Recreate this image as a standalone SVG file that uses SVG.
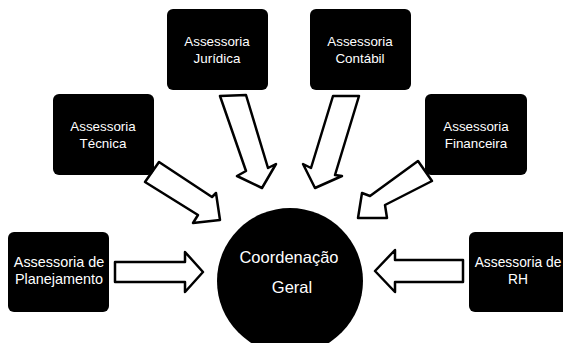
<svg xmlns="http://www.w3.org/2000/svg" width="563" height="343" viewBox="0 0 563 343">
  <style>
    .box { fill: #000; }
    .lbl { fill: #fff; font-family: "Liberation Sans", Arial, sans-serif; text-anchor: middle; font-size: 13.4px; }
    .big { font-size: 14.4px; }
    .rh { font-size: 13.8px; }
    .ctr { font-size: 16.5px; }
    .arrow { fill: #fff; stroke: #000; stroke-width: 2.5; stroke-linejoin: round; }
  </style>
  <rect width="563" height="343" fill="#fff"/>

  <g id="connectors">
    <polygon class="arrow" points="220,96 246,95 268,168 276,164 262,188 237,176 246,171"/>
    <polygon class="arrow" points="333,96 359,96 335,175 342,176 315,188 303,164 311,168"/>
    <polygon class="arrow" points="159,162 145,182 198,215 193,223 220,220 216,193 212,197"/>
    <polygon class="arrow" points="418,161 432,181 385,205 387,218 358,218 362,193 370,196"/>
    <polygon class="arrow" points="115,262 185,262 185,252 203,272 185,292 185,282 115,282"/>
    <polygon class="arrow" points="463,260 395,260 395,250 375,271 395,292 395,282 463,282"/>
  </g>

  <g id="coordenacao-geral">
    <circle class="box" cx="290" cy="281" r="73"/>
    <text class="lbl ctr" x="289" y="263">Coordenação</text>
    <text class="lbl ctr" x="292" y="293">Geral</text>
  </g>

  <g id="assessoria-juridica">
    <rect class="box" x="167" y="9" width="101" height="81" rx="6"/>
    <text class="lbl" x="217" y="46">Assessoria</text>
    <text class="lbl" x="217" y="63">Jurídica</text>
  </g>

  <g id="assessoria-contabil">
    <rect class="box" x="310" y="9" width="101" height="81" rx="6"/>
    <text class="lbl" x="360" y="46">Assessoria</text>
    <text class="lbl" x="360" y="63">Contábil</text>
  </g>

  <g id="assessoria-tecnica">
    <rect class="box" x="53" y="94" width="101" height="81" rx="6"/>
    <text class="lbl" x="103" y="131">Assessoria</text>
    <text class="lbl" x="103" y="148">Técnica</text>
  </g>

  <g id="assessoria-financeira">
    <rect class="box" x="425" y="94" width="102" height="81" rx="6"/>
    <text class="lbl" x="476" y="131">Assessoria</text>
    <text class="lbl" x="476" y="148">Financeira</text>
  </g>

  <g id="assessoria-planejamento">
    <rect class="box" x="8" y="232" width="101" height="80" rx="6"/>
    <text class="lbl big" x="59" y="267">Assessoria de</text>
    <text class="lbl big" x="59" y="284">Planejamento</text>
  </g>

  <g id="assessoria-rh">
    <rect class="box" x="469" y="232" width="102" height="80" rx="6"/>
    <text class="lbl rh" x="518" y="267">Assessoria de</text>
    <text class="lbl rh" x="518" y="284">RH</text>
  </g>
</svg>
